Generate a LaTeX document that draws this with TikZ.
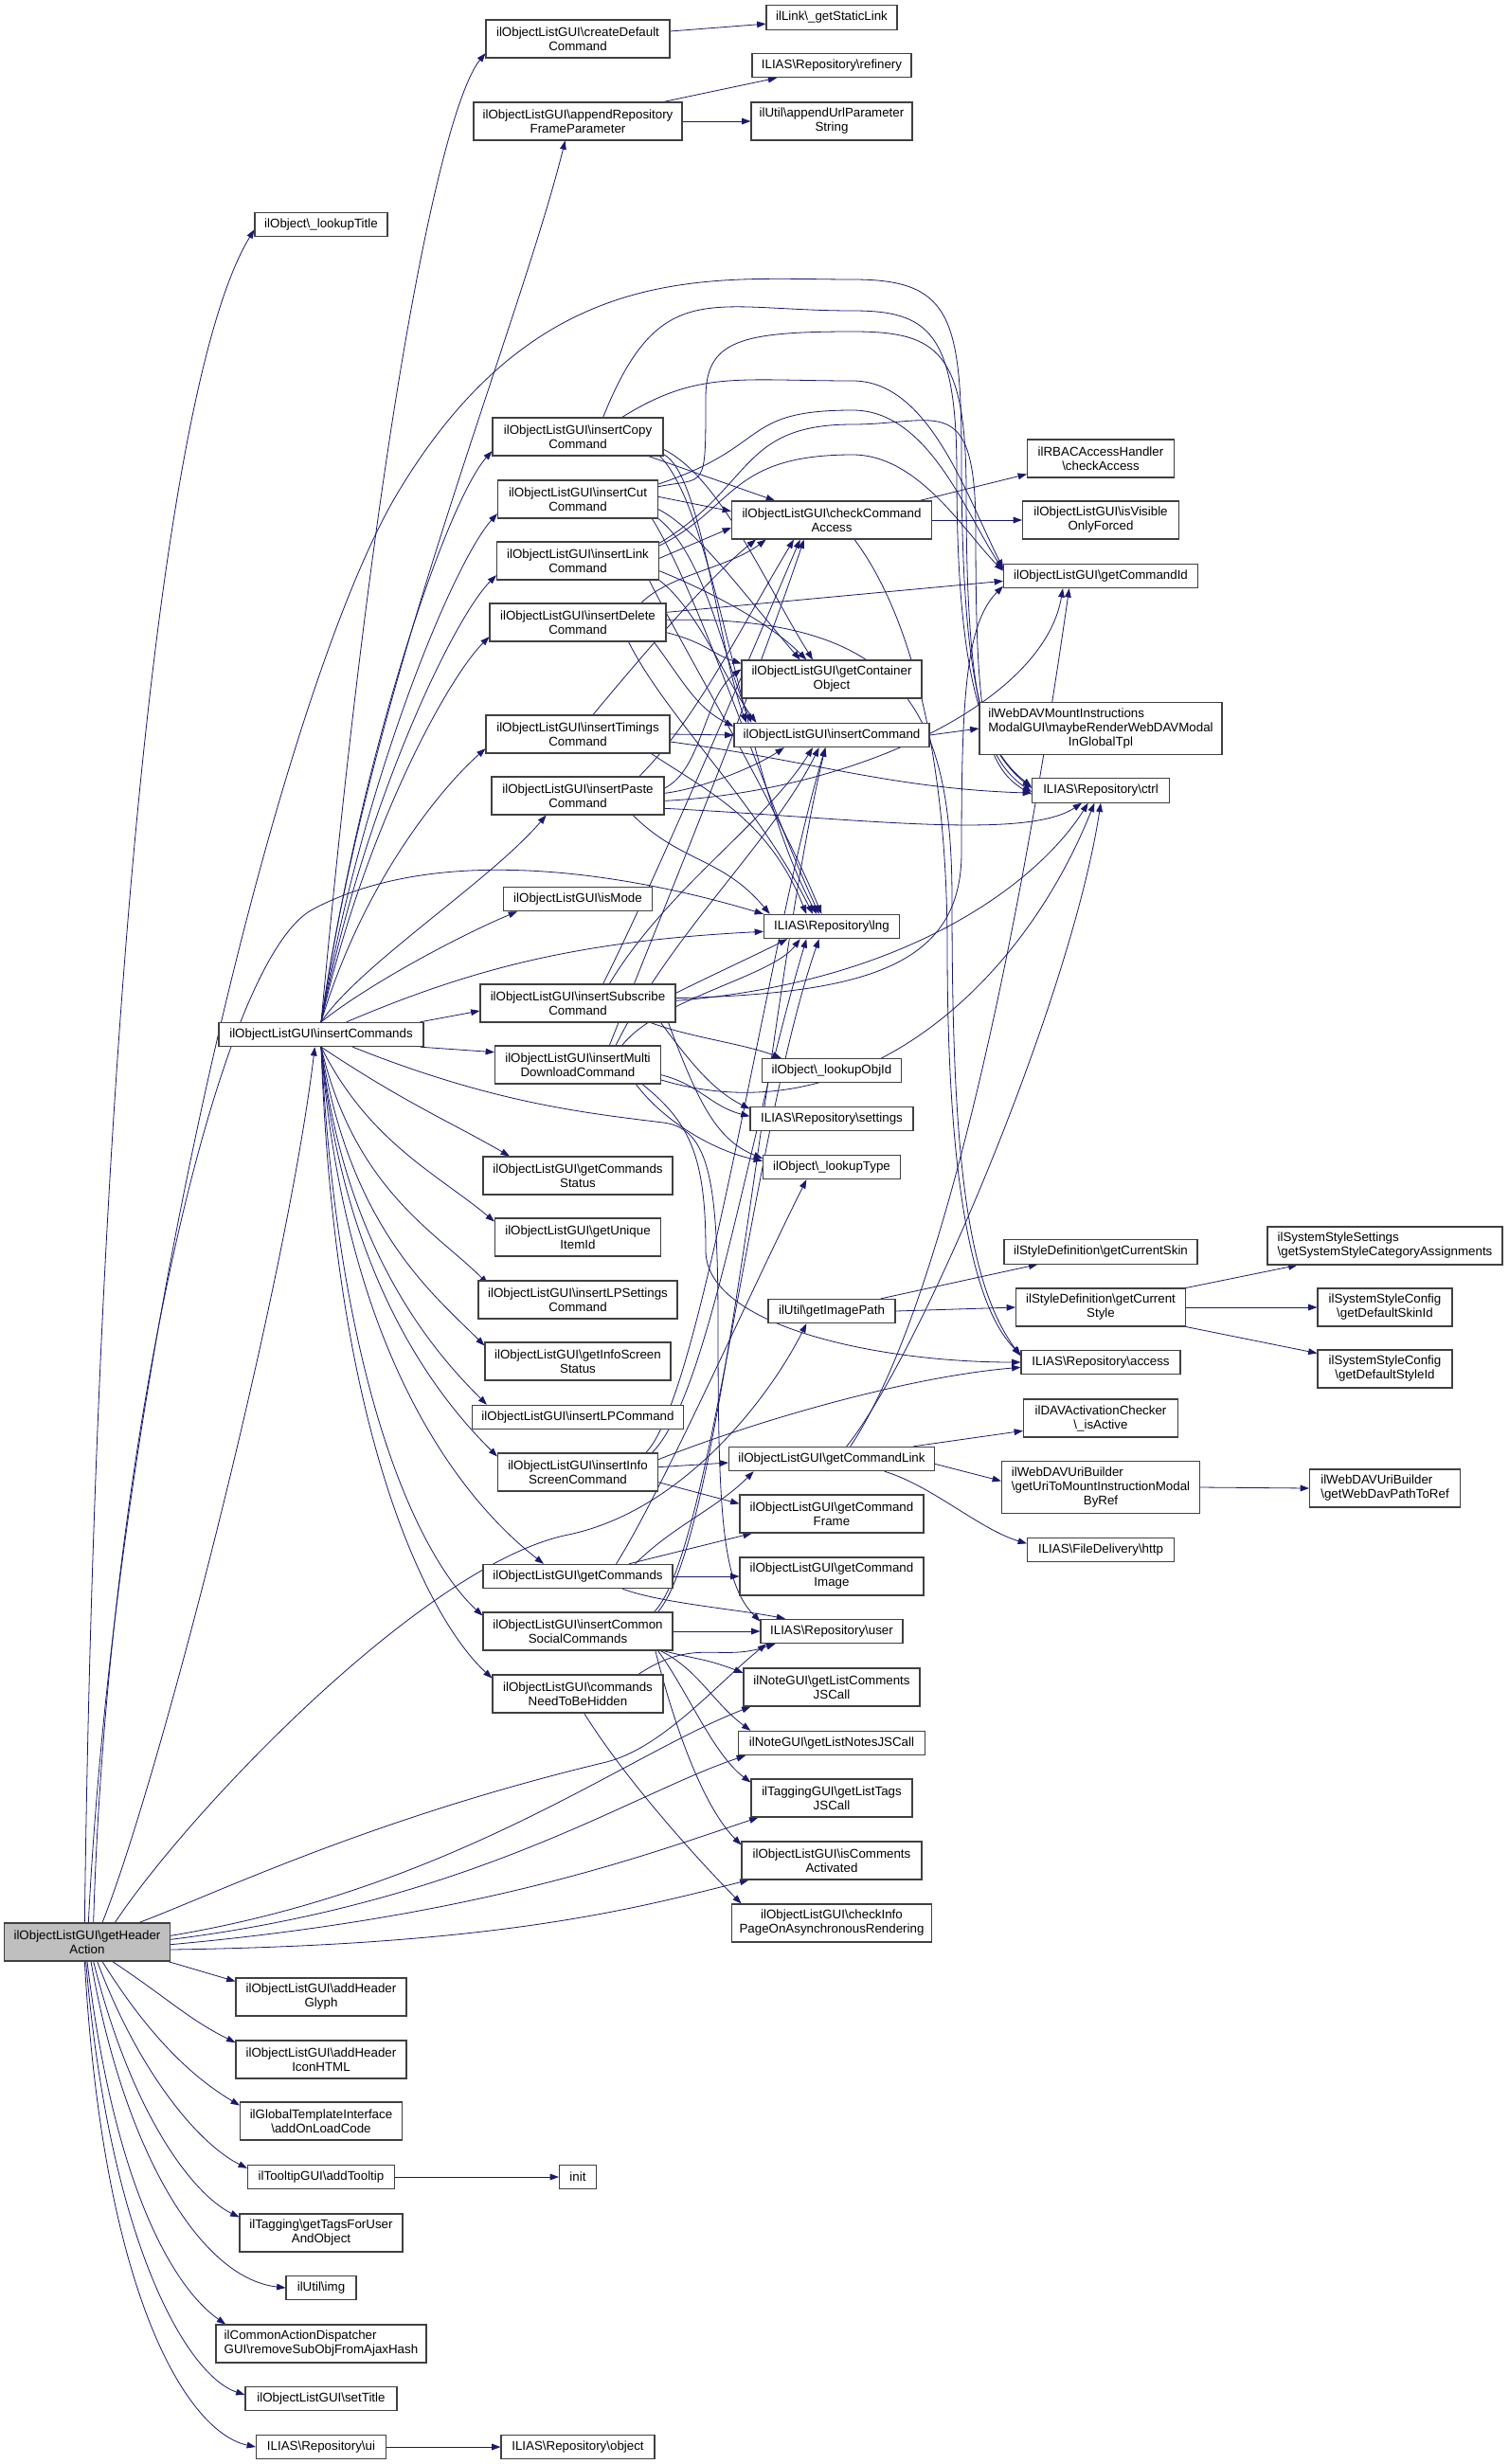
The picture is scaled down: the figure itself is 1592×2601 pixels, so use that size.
\documentclass[tikz,border=0pt]{standalone}
\usepackage{fontspec}
\setmainfont{Liberation Sans}
\usetikzlibrary{arrows.meta,backgrounds}

\definecolor{callblue}{HTML}{191970}
\definecolor{selfgray}{HTML}{BFBFBF}
\newcommand{\bsl}{\textbackslash}

\begin{document}
\begin{tikzpicture}[x=0.75pt, y=-0.75pt,
        >={Triangle[length=7pt,width=5pt]},
        fn/.style={draw=black!75, line width=0.8pt, fill=white, inner sep=0pt,
            align=center, font=\fontsize{10}{11.25}\selectfont},
        one/.style={minimum height=19pt},
        two/.style={minimum height=30pt},
        three/.style={minimum height=41.25pt},
        bw/.style={minimum width=#1*0.75pt},
        callto/.style={->, draw=callblue, line width=0.6pt}]

    \useasboundingbox (0,0) rectangle (1592,2601);

    %----- CALLER -----
    \node[fn,two,bw=175,fill=selfgray] (gha) at (92,2050) {ilObjectListGUI\bsl getHeader\\Action};

    %----- SECOND COLUMN -----
    \node[fn,one,bw=140] (lookupTitle) at (339,237) {ilObject\bsl\_lookupTitle};
    \node[fn,one,bw=216] (insCmds) at (339,1092) {ilObjectListGUI\bsl insertCommands};
    \node[fn,two,bw=180] (addGlyph) at (339,2108) {ilObjectListGUI\bsl addHeader\\Glyph};
    \node[fn,two,bw=180] (addIcon) at (339,2174) {ilObjectListGUI\bsl addHeader\\IconHTML};
    \node[fn,two,bw=171] (addLoad) at (339,2239) {ilGlobalTemplateInterface\\\bsl addOnLoadCode};
    \node[fn,one,bw=155] (addTip) at (339,2298) {ilTooltipGUI\bsl addTooltip};
    \node[fn,two,bw=172] (tagsUser) at (339,2357) {ilTagging\bsl getTagsForUser\\AndObject};
    \node[fn,one,bw=74] (img) at (339,2415) {ilUtil\bsl img};
    \node[fn,two,bw=222,align=left] (removeSub) at (339,2474) {ilCommonActionDispatcher\\GUI\bsl removeSubObjFromAjaxHash};
    \node[fn,one,bw=160] (setTitle) at (339,2532) {ilObjectListGUI\bsl setTitle};
    \node[fn,one,bw=137] (ui) at (339,2583) {ILIAS\bsl Repository\bsl ui};

    %----- THIRD COLUMN -----
    \node[fn,two,bw=194] (createDef) at (610,41) {ilObjectListGUI\bsl createDefault\\Command};
    \node[fn,two,bw=220] (appendRepo) at (610,128) {ilObjectListGUI\bsl appendRepository\\FrameParameter};
    \node[fn,two,bw=180] (insCopy) at (610,461) {ilObjectListGUI\bsl insertCopy\\Command};
    \node[fn,two,bw=169] (insCut) at (610,527) {ilObjectListGUI\bsl insertCut\\Command};
    \node[fn,two,bw=171] (insLink) at (610,592) {ilObjectListGUI\bsl insertLink\\Command};
    \node[fn,two,bw=186] (insDelete) at (610,657) {ilObjectListGUI\bsl insertDelete\\Command};
    \node[fn,two,bw=194] (insTimings) at (610,775) {ilObjectListGUI\bsl insertTimings\\Command};
    \node[fn,two,bw=182] (insPaste) at (610,840) {ilObjectListGUI\bsl insertPaste\\Command};
    \node[fn,one,bw=157] (isMode) at (610,949) {ilObjectListGUI\bsl isMode};
    \node[fn,two,bw=206] (insSubscribe) at (610,1059) {ilObjectListGUI\bsl insertSubscribe\\Command};
    \node[fn,two,bw=175] (insMulti) at (610,1124) {ilObjectListGUI\bsl insertMulti\\DownloadCommand};
    \node[fn,two,bw=200] (cmdsStatus) at (610,1241) {ilObjectListGUI\bsl getCommands\\Status};
    \node[fn,two,bw=175] (uniqueId) at (610,1306) {ilObjectListGUI\bsl getUnique\\ItemId};
    \node[fn,two,bw=210] (insLPSet) at (610,1372) {ilObjectListGUI\bsl insertLPSettings\\Command};
    \node[fn,two,bw=196] (infoStatus) at (610,1437) {ilObjectListGUI\bsl getInfoScreen\\Status};
    \node[fn,one,bw=223] (insLP) at (610,1496) {ilObjectListGUI\bsl insertLPCommand};
    \node[fn,two,bw=169] (insInfo) at (610,1554) {ilObjectListGUI\bsl insertInfo\\ScreenCommand};
    \node[fn,one,bw=200] (getCmds) at (610,1664) {ilObjectListGUI\bsl getCommands};
    \node[fn,two,bw=200] (insSocial) at (610,1722) {ilObjectListGUI\bsl insertCommon\\SocialCommands};
    \node[fn,two,bw=180] (needHidden) at (610,1788) {ilObjectListGUI\bsl commands\\NeedToBeHidden};
    \node[fn,one,bw=39] (init) at (610,2298) {init};
    \node[fn,one,bw=162] (object) at (610,2583) {ILIAS\bsl Repository\bsl object};

    %----- FOURTH COLUMN -----
    \node[fn,one,bw=138] (staticLink) at (878,18.5) {ilLink\bsl\_getStaticLink};
    \node[fn,one,bw=168] (refinery) at (878,69) {ILIAS\bsl Repository\bsl refinery};
    \node[fn,two,bw=170] (appendUrl) at (878,128) {ilUtil\bsl appendUrlParameter\\String};
    \node[fn,two,bw=211] (checkCA) at (878,549) {ilObjectListGUI\bsl checkCommand\\Access};
    \node[fn,two,bw=190] (container) at (878,717) {ilObjectListGUI\bsl getContainer\\Object};
    \node[fn,one,bw=206] (insCmd) at (878,776) {ilObjectListGUI\bsl insertCommand};
    \node[fn,one,bw=143] (lng) at (878,978) {ILIAS\bsl Repository\bsl lng};
    \node[fn,one,bw=147] (objId) at (878,1130) {ilObject\bsl\_lookupObjId};
    \node[fn,one,bw=172] (settings) at (878,1181) {ILIAS\bsl Repository\bsl settings};
    \node[fn,one,bw=145] (lookupType) at (878,1232) {ilObject\bsl\_lookupType};
    \node[fn,one,bw=134] (imagePath) at (878,1384) {ilUtil\bsl getImagePath};
    \node[fn,one,bw=217] (cmdLink) at (878,1540) {ilObjectListGUI\bsl getCommandLink};
    \node[fn,two,bw=194] (cmdFrame) at (878,1598) {ilObjectListGUI\bsl getCommand\\Frame};
    \node[fn,two,bw=194] (cmdImage) at (878,1664) {ilObjectListGUI\bsl getCommand\\Image};
    \node[fn,one,bw=150] (user) at (878,1722) {ILIAS\bsl Repository\bsl user};
    \node[fn,two,bw=186] (listComments) at (878,1781) {ilNoteGUI\bsl getListComments\\JSCall};
    \node[fn,one,bw=197] (listNotes) at (878,1840) {ilNoteGUI\bsl getListNotesJSCall};
    \node[fn,two,bw=170] (listTags) at (878,1898) {ilTaggingGUI\bsl getListTags\\JSCall};
    \node[fn,two,bw=190] (commentsAct) at (878,1964) {ilObjectListGUI\bsl isComments\\Activated};
    \node[fn,two,bw=211] (checkInfo) at (878,2030) {ilObjectListGUI\bsl checkInfo\\PageOnAsynchronousRendering};

    %----- FIFTH COLUMN -----
    \node[fn,two,bw=155] (rbac) at (1162,484) {ilRBACAccessHandler\\\bsl checkAccess};
    \node[fn,two,bw=165] (visible) at (1162,549) {ilObjectListGUI\bsl isVisible\\OnlyForced};
    \node[fn,one,bw=205] (cmdId) at (1162,608) {ilObjectListGUI\bsl getCommandId};
    \node[fn,three,bw=256] (maybeRender) at (1162,769) {\begin{tabular}{@{}l@{}}ilWebDAVMountInstructions\\ModalGUI\bsl maybeRenderWebDAVModal\\\multicolumn{1}{@{}c@{}}{InGlobalTpl}\end{tabular}};
    \node[fn,one,bw=145] (ctrl) at (1162,834.5) {ILIAS\bsl Repository\bsl ctrl};
    \node[fn,one,bw=204] (curSkin) at (1162,1321.5) {ilStyleDefinition\bsl getCurrentSkin};
    \node[fn,two,bw=179] (curStyle) at (1162,1380) {ilStyleDefinition\bsl getCurrent\\Style};
    \node[fn,one,bw=168] (access) at (1162,1438) {ILIAS\bsl Repository\bsl access};
    \node[fn,two,bw=163] (davActive) at (1162,1497) {ilDAVActivationChecker\\\bsl\_isActive};
    \node[fn,three,bw=209] (uriMount) at (1162,1570) {\begin{tabular}{@{}l@{}}ilWebDAVUriBuilder\\\bsl getUriToMountInstructionModal\\\multicolumn{1}{@{}c@{}}{ByRef}\end{tabular}};
    \node[fn,one,bw=155] (http) at (1162,1636) {ILIAS\bsl FileDelivery\bsl http};

    %----- SIXTH COLUMN -----
    \node[fn,two,bw=248,align=left] (catAssign) at (1462,1315) {ilSystemStyleSettings\\\bsl getSystemStyleCategoryAssignments};
    \node[fn,two,bw=142] (skinId) at (1462,1380) {ilSystemStyleConfig\\\bsl getDefaultSkinId};
    \node[fn,two,bw=142] (styleId) at (1462,1445) {ilSystemStyleConfig\\\bsl getDefaultStyleId};
    \node[fn,two,bw=159,align=left] (davPath) at (1462,1571) {ilWebDAVUriBuilder\\\bsl getWebDavPathToRef};

    \begin{scope}[on background layer]
    %----- CALLS OF getHeaderAction -----
    \draw[callto] ([xshift=-2pt]gha.north) .. controls +(10,-800) and +(-110,180) .. ([yshift=-4pt]lookupTitle.west);
    \draw[callto] ([xshift=12pt]gha.north) .. controls +(60,-150) and +(-30,250) .. ([xshift=-5pt]insCmds.south);
    \draw[callto] ([xshift=5pt]gha.north) .. controls +(15,-500) and +(-100,53) .. (330,960) .. controls +(150,-80) and +(-100,-30) .. (lng.north west);
    \draw[callto] ([xshift=1pt]gha.north) .. controls +(30,-600) and +(-120,200) .. (420,520) .. controls +(150,-250) and +(-150,0) .. (900,295) .. controls +(100,0) and +(0,-150) .. (1015,480) .. controls +(0,250) and +(-50,-40) .. ([yshift=3pt]ctrl.west);
    \draw[callto] ([xshift=22pt]gha.north) .. controls +(80,-120) and +(-150,30) .. (600,1620) .. controls +(120,-25) and +(-40,80) .. ([xshift=-20pt]imagePath.south);
    \draw[callto] ([xshift=-25pt]gha.north east) .. controls +(80,-30) and +(-250,60) .. (640,1860) .. controls +(60,-15) and +(-50,40) .. ([xshift=5pt]user.south west);
    \draw[callto] ([yshift=5pt]gha.east) .. controls +(300,-50) and +(-130,50) .. ([xshift=6pt]listComments.south west);
    \draw[callto] ([yshift=2pt]gha.east) .. controls +(320,-40) and +(-120,40) .. ([xshift=6pt]listNotes.south west);
    \draw[callto] ([yshift=-2pt]gha.east) .. controls +(330,-30) and +(-120,40) .. ([xshift=6pt]listTags.south west);
    \draw[callto] ([yshift=-6pt]gha.east) .. controls +(350,-5) and +(-120,30) .. ([xshift=6pt]commentsAct.south west);
    \draw[callto] ([xshift=-2pt]gha.south east) -- ([yshift=-3pt]addGlyph.north west);
    \draw[callto] ([xshift=20pt]gha.south) .. controls +(60,40) and +(-50,-25) .. ([yshift=-2pt]addIcon.north west);
    \draw[callto] ([xshift=12pt]gha.south) .. controls +(50,80) and +(-50,-30) .. ([yshift=-3pt]addLoad.north west);
    \draw[callto] ([xshift=8pt]gha.south) .. controls +(45,120) and +(-50,-25) .. ([yshift=-3pt]addTip.north west);
    \draw[callto] ([xshift=5pt]gha.south) .. controls +(40,160) and +(-50,-25) .. ([yshift=-3pt]tagsUser.north west);
    \draw[callto] ([xshift=3pt]gha.south) .. controls +(35,200) and +(-90,-10) .. (img.west);
    \draw[callto] (gha.south) .. controls +(30,250) and +(-50,-35) .. ([xshift=8pt]removeSub.north west);
    \draw[callto] ([xshift=-1pt]gha.south) .. controls +(25,300) and +(-60,-20) .. ([yshift=3pt]setTitle.west);
    \draw[callto] ([xshift=-2pt]gha.south) .. controls +(20,360) and +(-70,-15) .. (ui.west);
    \draw[callto] (addTip.east) -- (init.west);
    \draw[callto] (ui.east) -- (object.west);

    %----- CALLS OF insertCommands -----
    \draw[callto] (insCmds.north) .. controls +(60,-650) and +(-45,55) .. ([yshift=4pt]createDef.south west);
    \draw[callto] (insCmds.north) .. controls +(50,-350) and +(-50,200) .. ([xshift=-10pt]appendRepo.south);
    \draw[callto] (insCmds.north) .. controls +(45,-300) and +(-45,50) .. ([yshift=4pt]insCopy.south west);
    \draw[callto] (insCmds.north) .. controls +(45,-260) and +(-45,50) .. ([yshift=4pt]insCut.south west);
    \draw[callto] (insCmds.north) .. controls +(45,-230) and +(-45,45) .. ([yshift=4pt]insLink.south west);
    \draw[callto] (insCmds.north) .. controls +(45,-200) and +(-45,45) .. ([yshift=4pt]insDelete.south west);
    \draw[callto] (insCmds.north) .. controls +(45,-150) and +(-45,40) .. ([yshift=4pt]insTimings.south west);
    \draw[callto] (insCmds.north) .. controls +(40,-60) and +(-60,70) .. ([xshift=-25pt]insPaste.south);
    \draw[callto] (insCmds.north) .. controls +(50,-40) and +(-60,25) .. ([xshift=-48pt]isMode.south);
    \draw[callto] ([xshift=-3pt]insCmds.north east) -- ([yshift=-6pt]insSubscribe.west);
    \draw[callto] ([xshift=-3pt]insCmds.south east) -- ([yshift=10pt]insMulti.west);
    \draw[callto] (insCmds.south) .. controls +(90,60) and +(-60,-35) .. ([xshift=-54pt]cmdsStatus.north);
    \draw[callto] (insCmds.south) .. controls +(50,100) and +(-60,-50) .. ([yshift=-3pt]uniqueId.north west);
    \draw[callto] (insCmds.south) .. controls +(35,150) and +(-55,-55) .. ([xshift=8pt,yshift=-3pt]insLPSet.north west);
    \draw[callto] (insCmds.south) .. controls +(30,190) and +(-55,-55) .. ([yshift=-3pt]infoStatus.north west);
    \draw[callto] (insCmds.south) .. controls +(25,220) and +(-50,-50) .. ([xshift=12pt]insLP.north west);
    \draw[callto] (insCmds.south) .. controls +(25,260) and +(-50,-50) .. ([yshift=-3pt]insInfo.north west);
    \draw[callto] (insCmds.south) .. controls +(25,320) and +(-90,-70) .. ([xshift=-27pt]getCmds.north);
    \draw[callto] (insCmds.south) .. controls +(20,380) and +(-60,-55) .. ([yshift=-3pt]insSocial.north west);
    \draw[callto] (insCmds.south) .. controls +(15,430) and +(-60,-55) .. ([yshift=-3pt]needHidden.north west);
    \draw[callto] ([xshift=20pt]insCmds.north) .. controls +(130,-55) and +(-200,10) .. ([yshift=-4pt]lng.west);
    \draw[callto] ([xshift=25pt]insCmds.south) .. controls +(150,60) and +(-80,-10) .. (700,1185) .. controls +(50,6) and +(0,-150) .. (758,1400) .. controls +(0,200) and +(-40,-40) .. ([yshift=-2pt]user.north west);

    %----- CALLS OF THE THIRD COLUMN -----
    \draw[callto] ([yshift=6pt]createDef.east) -- ([yshift=-5pt]staticLink.west);
    \draw[callto] ([xshift=-15pt]appendRepo.north east) -- ([xshift=20pt]refinery.south west);
    \draw[callto] (appendRepo.east) -- (appendUrl.west);

    % insertCopyCommand
    \draw[callto] ([xshift=-12pt]insCopy.south east) -- ([xshift=-45pt]checkCA.north);
    \draw[callto] ([yshift=-10pt]insCopy.east) .. controls +(60,30) and +(-50,-80) .. ([xshift=-15pt]container.north);
    \draw[callto] ([yshift=-14pt]insCopy.east) .. controls +(40,20) and +(-30,-80) .. ([xshift=10pt]insCmd.north west);
    \draw[callto] ([xshift=-3pt]insCopy.south east) .. controls +(60,60) and +(-80,-150) .. ([xshift=-12pt]lng.north);
    \draw[callto] ([xshift=20pt]insCopy.north) .. controls +(60,-150) and +(-150,0) .. (900,328) .. controls +(80,0) and +(0,-150) .. (1010,500) .. controls +(0,220) and +(-50,-40) .. ([yshift=2pt]ctrl.west);
    \draw[callto] ([xshift=35pt]insCopy.north) .. controls +(80,-50) and +(-120,0) .. (900,402) .. controls +(80,0) and +(-40,-80) .. ([yshift=6pt]cmdId.west);

    % insertCutCommand
    \draw[callto] ([yshift=2pt]insCut.east) -- ([yshift=7pt]checkCA.west);
    \draw[callto] ([yshift=-8pt]insCut.east) .. controls +(40,20) and +(-60,-70) .. ([xshift=-25pt]container.north);
    \draw[callto] (insCut.south east) .. controls +(50,40) and +(-30,-70) .. ([xshift=14pt]insCmd.north west);
    \draw[callto] ([xshift=-5pt]insCut.south east) .. controls +(50,80) and +(-60,-130) .. ([xshift=-10pt]lng.north);
    \draw[callto] ([yshift=10pt]insCut.east) .. controls +(50,-10) and +(0,100) .. (745,420) .. controls +(0,-60) and +(-120,0) .. (900,350) .. controls +(90,0) and +(0,-150) .. (1020,520) .. controls +(0,220) and +(-50,-35) .. ([yshift=-1pt]ctrl.west);
    \draw[callto] ([yshift=12pt]insCut.east) .. controls +(120,-40) and +(-120,0) .. (900,433) .. controls +(80,0) and +(-40,-60) .. ([yshift=5pt]cmdId.west);

    % insertLinkCommand
    \draw[callto] ([yshift=2pt]insLink.east) -- ([yshift=-6pt]checkCA.west);
    \draw[callto] ([yshift=-8pt]insLink.east) .. controls +(50,20) and +(-40,-40) .. ([xshift=-20pt]container.north);
    \draw[callto] (insLink.south east) .. controls +(40,30) and +(-30,-40) .. ([xshift=18pt]insCmd.north west);
    \draw[callto] ([xshift=-8pt]insLink.south east) .. controls +(40,80) and +(-50,-120) .. ([xshift=-8pt]lng.north);
    \draw[callto] ([yshift=12pt]insLink.east) .. controls +(80,-40) and +(-130,0) .. (900,480) .. controls +(70,0) and +(-40,-40) .. ([yshift=4pt]cmdId.west);
    \draw[callto] ([yshift=14pt]insLink.east) .. controls +(100,-60) and +(-120,0) .. (900,448) .. controls +(90,0) and +(0,-150) .. (1030,560) .. controls +(0,200) and +(-50,-30) .. ([yshift=-3pt]ctrl.west);

    % insertDeleteCommand
    \draw[callto] ([yshift=8pt]insDelete.east) -- ([yshift=-4pt]cmdId.west);
    \draw[callto] ([xshift=-20pt]insDelete.north east) .. controls +(30,-30) and +(-40,30) .. ([xshift=-52pt]checkCA.south);
    \draw[callto] ([yshift=-8pt]insDelete.east) .. controls +(40,10) and +(-30,-10) .. ([yshift=-3pt]container.north west);
    \draw[callto] ([xshift=-10pt]insDelete.south east) .. controls +(30,40) and +(-40,-20) .. ([yshift=-3pt]insCmd.north west);
    \draw[callto] ([xshift=-30pt]insDelete.south east) .. controls +(40,80) and +(-60,-120) .. ([xshift=-15pt]lng.north);
    \draw[callto] ([yshift=2pt]insDelete.east) .. controls +(250,-5) and +(0,-200) .. (1005,950) .. controls +(0,250) and +(-60,-80) .. ([yshift=5pt]access.west);

    % insertTimingsCommand
    \draw[callto] ([xshift=12pt]insTimings.north) .. controls +(50,-60) and +(-50,40) .. ([xshift=-60pt]checkCA.south);
    \draw[callto] (insTimings.east) -- (insCmd.west);
    \draw[callto] ([yshift=-6pt]insTimings.east) .. controls +(150,20) and +(-150,-5) .. ([yshift=-2pt]ctrl.west);
    \draw[callto] ([xshift=-15pt]insTimings.south east) .. controls +(60,40) and +(-40,-100) .. ([xshift=-20pt]lng.north);

    % insertPasteCommand
    \draw[callto] ([xshift=-20pt]insPaste.north east) .. controls +(60,-60) and +(-60,100) .. ([xshift=-30pt]checkCA.south);
    \draw[callto] ([yshift=6pt]insPaste.east) .. controls +(40,-20) and +(-40,30) .. ([yshift=8pt]container.west);
    \draw[callto] ([yshift=2pt]insPaste.east) .. controls +(40,-5) and +(-30,20) .. ([xshift=40pt]insCmd.south west);
    \draw[callto] ([xshift=-25pt]insPaste.south east) .. controls +(50,50) and +(-50,-60) .. ([xshift=5pt]lng.north west);
    \draw[callto] ([yshift=-4pt]insPaste.east) .. controls +(200,-10) and +(-20,120) .. ([xshift=-30pt]cmdId.south);
    \draw[callto] ([yshift=-10pt]insPaste.east) .. controls +(200,10) and +(-60,40) .. ([xshift=-15pt]ctrl.south);

    % insertSubscribeCommand
    \draw[callto] ([xshift=20pt]insSubscribe.north) .. controls +(60,-120) and +(-60,140) .. ([xshift=-25pt]checkCA.south);
    \draw[callto] ([xshift=25pt]insSubscribe.north) .. controls +(60,-100) and +(-50,80) .. ([xshift=-15pt]insCmd.south);
    \draw[callto] ([yshift=8pt]insSubscribe.east) .. controls +(40,-20) and +(-40,20) .. ([xshift=-35pt]lng.south);
    \draw[callto] ([xshift=-20pt]insSubscribe.south east) .. controls +(40,15) and +(-40,-15) .. ([xshift=-40pt]objId.north);
    \draw[callto] ([xshift=-12pt]insSubscribe.south east) .. controls +(30,40) and +(-40,-20) .. ([yshift=-2pt]settings.north west);
    \draw[callto] ([xshift=-6pt]insSubscribe.south east) .. controls +(30,80) and +(-50,-20) .. ([yshift=-3pt]lookupType.north west);
    \draw[callto] ([yshift=2pt]insSubscribe.east) .. controls +(250,-20) and +(-50,80) .. ([xshift=-10pt]ctrl.south);
    \draw[callto] ([yshift=4pt]insSubscribe.east) .. controls +(200,-5) and +(0,120) .. (1015,900) .. controls +(0,-160) and +(-40,40) .. ([yshift=-8pt]cmdId.west);

    % insertMultiDownloadCommand
    \draw[callto] ([xshift=25pt]insMulti.north) .. controls +(60,-150) and +(-50,150) .. ([xshift=-22pt]checkCA.south);
    \draw[callto] ([xshift=30pt]insMulti.north) .. controls +(60,-120) and +(-50,100) .. ([xshift=-10pt]insCmd.south);
    \draw[callto] ([xshift=35pt]insMulti.north) .. controls +(40,-50) and +(-30,40) .. ([xshift=-25pt]lng.south);
    \draw[callto] ([yshift=-8pt]insMulti.east) .. controls +(40,10) and +(-40,-10) .. ([yshift=2pt]settings.west);
    \draw[callto] ([xshift=-20pt]insMulti.south east) .. controls +(30,40) and +(-50,-10) .. ([yshift=-5pt]lookupType.north west);
    \draw[callto] ([yshift=-12pt]insMulti.east) .. controls +(200,60) and +(-80,200) .. ([xshift=-5pt]ctrl.south);
    \draw[callto] ([xshift=-15pt]insMulti.south east) .. controls +(50,40) and +(0,-100) .. (745,1320) .. controls +(0,80) and +(-150,0) .. (access.west);

    % insertInfoScreenCommand
    \draw[callto] ([yshift=4pt]insInfo.east) -- ([yshift=-3pt]cmdLink.west);
    \draw[callto] ([yshift=-8pt]insInfo.east) -- ([yshift=8pt]cmdFrame.west);
    \draw[callto] ([xshift=-10pt]insInfo.north east) .. controls +(60,-60) and +(-60,200) .. ([xshift=-5pt]insCmd.south);
    \draw[callto] ([xshift=-5pt]insInfo.north east) .. controls +(60,-60) and +(-60,200) .. ([xshift=-20pt]lng.south);
    \draw[callto] ([yshift=10pt]insInfo.east) .. controls +(100,-40) and +(-120,10) .. ([yshift=-4pt]access.west);

    % getCommands
    \draw[callto] (getCmds.east) -- (cmdImage.west);
    \draw[callto] ([xshift=-35pt]getCmds.north east) -- ([xshift=10pt]cmdFrame.south west);
    \draw[callto] ([xshift=-30pt]getCmds.north east) .. controls +(40,-40) and +(-40,40) .. ([xshift=20pt]cmdLink.south west);
    \draw[callto] ([xshift=-40pt]getCmds.south east) .. controls +(40,15) and +(-50,-10) .. ([xshift=20pt]user.north west);
    \draw[callto] ([xshift=-45pt]getCmds.north east) .. controls +(50,-80) and +(-60,120) .. ([xshift=-20pt]lookupType.south);

    % insertCommonSocialCommands
    \draw[callto] (insSocial.east) -- (user.west);
    \draw[callto] ([xshift=-8pt]insSocial.south east) .. controls +(40,10) and +(-40,-15) .. ([yshift=-4pt]listComments.north west);
    \draw[callto] ([xshift=-10pt]insSocial.south east) .. controls +(40,20) and +(-40,-30) .. ([xshift=10pt]listNotes.north west);
    \draw[callto] ([xshift=-12pt]insSocial.south east) .. controls +(30,40) and +(-40,-30) .. ([yshift=-3pt]listTags.north west);
    \draw[callto] ([xshift=-14pt]insSocial.south east) .. controls +(20,80) and +(-40,-40) .. ([yshift=-3pt]commentsAct.north west);
    \draw[callto] ([xshift=-15pt]insSocial.north east) .. controls +(60,-60) and +(-70,200) .. ([xshift=-10pt]lng.south);
    \draw[callto] ([xshift=-12pt]insSocial.north east) .. controls +(70,-80) and +(-60,250) .. ([xshift=-5pt]insCmd.south);

    % commandsNeedToBeHidden
    \draw[callto] ([xshift=5pt]needHidden.south) .. controls +(50,80) and +(-30,-30) .. ([xshift=8pt]checkInfo.north west);
    \draw[callto] ([xshift=-20pt]needHidden.north east) .. controls +(60,-40) and +(-60,20) .. ([xshift=12pt]user.south west);

    %----- CALLS OF THE FOURTH COLUMN -----
    \draw[callto] ([xshift=-10pt]checkCA.north east) -- ([yshift=3pt]rbac.south west);
    \draw[callto] (checkCA.east) -- (visible.west);
    \draw[callto] ([xshift=18pt]checkCA.south) .. controls +(60,80) and +(0,-200) .. (1000,1000) .. controls +(0,250) and +(-50,-50) .. ([yshift=6pt]access.west);
    \draw[callto] (insCmd.east) -- (maybeRender.west);
    \draw[callto] ([xshift=-17pt]cmdLink.north east) -- ([yshift=-10pt]davActive.west);
    \draw[callto] ([yshift=-4pt]cmdLink.east) -- ([yshift=5pt]uriMount.west);
    \draw[callto] ([xshift=-40pt]cmdLink.south east) .. controls +(50,15) and +(-50,-15) .. ([yshift=5pt]http.west);
    \draw[callto] ([xshift=-70pt]cmdLink.north east) .. controls +(80,-100) and +(-30,200) .. (ctrl.south);
    \draw[callto] ([xshift=-67pt]cmdLink.north east) .. controls +(100,-150) and +(-50,350) .. ([xshift=-25pt]cmdId.south);
    \draw[callto] ([xshift=39pt]imagePath.north) -- ([xshift=-50pt]curSkin.south);
    \draw[callto] (imagePath.east) -- (curStyle.west);

    %----- CALLS OF THE FIFTH COLUMN -----
    \draw[callto] (curStyle.north east) -- ([xshift=24pt]catAssign.south west);
    \draw[callto] (curStyle.east) -- (skinId.west);
    \draw[callto] (curStyle.south east) -- ([yshift=-3pt]styleId.north west);
    \draw[callto] (uriMount.east) -- (davPath.west);
    \end{scope}

\end{tikzpicture}
\end{document}
